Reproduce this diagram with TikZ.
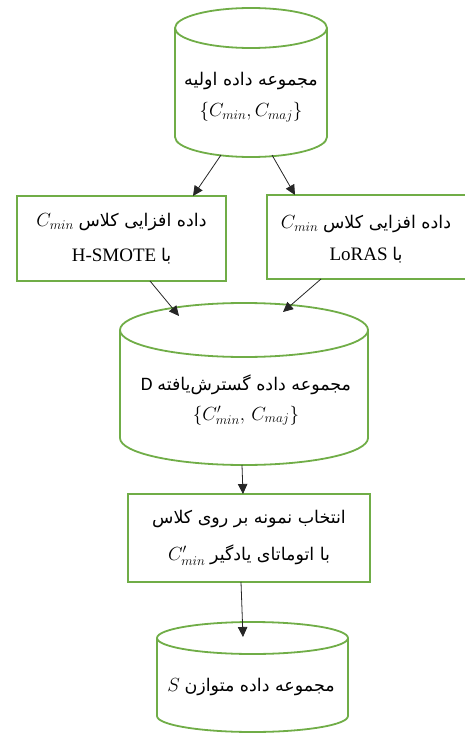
\RequirePackage{fix-cm}
\documentclass[tikz,border=0pt]{standalone}
\usepackage{fontspec}
\setmainfont{Liberation Serif}
\newfontfamily\fa[Script=Arabic,Scale=0.92]{DejaVu Sans}
\newfontfamily\calib{Carlito}
\TeXXeTstate=1
\usetikzlibrary{arrows.meta,calc}
\definecolor{grn}{RGB}{112,173,71}
\newcommand\mth[1]{{\fontsize{19}{19}\selectfont$#1$}}
\newcommand\drawcyl[2]{%
  \draw[cylline] let \p1=(#1.north west), \p2=(#1.south east), \n1={(\x2-\x1)/2} in
    (\x1+\n1,\y1-#2) ellipse [x radius=\n1, y radius=#2]
    (\x1,\y1-#2) -- (\x1,\y2+#2) arc [start angle=180, end angle=360, x radius=\n1, y radius=#2]
    -- (\x2,\y1-#2);}
\tikzset{
  cylline/.style={draw=grn, line width=1.8pt},
  body/.style={draw=none, inner sep=0pt, outer sep=0pt},
  procbox/.style={draw=grn, line width=1.8pt, inner sep=0pt, outer sep=0pt, align=center},
  txt/.style={align=center, inner sep=0pt},
  conn/.style={draw=black!85, line width=0.8pt, -{Triangle[length=10pt,width=9.5pt]}},
}
\begin{document}
\begin{tikzpicture}[x=1pt,y=-1pt]
\useasboundingbox (0,0) rectangle (465,733);
% cylinder 1
\node[body, minimum width=152pt, minimum height=149pt] (c1) at (251,82.5) {};
\drawcyl{c1}{20pt}
\node[txt, font=\fontsize{19}{31}\selectfont] (c1t) at (251,97.5)
  {{\fa\beginR مجموعه داده اولیه\endR}\\\mth{\{C_{min},C_{maj}\}}};
% box 1
\node[procbox, minimum width=209pt, minimum height=85pt, font=\fontsize{19}{35}\selectfont] (b1) at (121.5,238.5)
  {\mth{C_{min}} {\fa\beginR داده افزایی کلاس\endR}\\H-SMOTE {\fa\beginR با\endR}};
% box 2
\node[procbox, minimum width=206pt, minimum height=84pt] (b2) at (370,237) {};
\node[txt, font=\fontsize{19}{32}\selectfont] (b2t) at (366,239)
  {\mth{C_{min}} {\fa\beginR داده افزایی کلاس\endR}\\LoRAS {\fa\beginR با\endR}};
% cylinder 2
\node[body, minimum width=248pt, minimum height=162pt] (c2) at (244,384) {};
\drawcyl{c2}{27pt}
\node[txt, font=\fontsize{19}{30}\selectfont] (c2t) at (246,400)
  {{\calib D} {\fa\beginR مجموعه داده گسترش‌یافته\endR}\\\mth{\{C'_{min},\,C_{maj}\}}};
% box 3
\node[procbox, minimum width=242pt, minimum height=88pt, font=\fontsize{19}{37}\selectfont] (b3) at (249,538)
  {{\fa\beginR انتخاب نمونه بر روی کلاس\endR}\\\mth{C'_{min}} {\fa\beginR با اتوماتای یادگیر\endR}};
% cylinder 3
\node[body, minimum width=191pt, minimum height=110pt] (c3) at (252.5,677) {};
\drawcyl{c3}{16pt}
\node[txt, font=\fontsize{19}{30}\selectfont] (c3t) at (251,687)
  {\mth{S} {\fa\beginR مجموعه داده متوازن\endR}};
% connectors
\draw[conn] ([shift={(-30pt,2pt)}]c1.south) -- ([xshift=71.5pt]b1.north);
\draw[conn] ([shift={(21pt,2pt)}]c1.south) -- ([xshift=-75pt]b2.north);
\draw[conn] ([xshift=28.5pt]b1.south) -- ([shift={(-65pt,-13pt)}]c2.north);
\draw[conn] ([xshift=-49pt]b2.south) -- ([shift={(39pt,-9pt)}]c2.north);
\draw[conn] ([xshift=-2pt]c2.south) -- ([xshift=-6pt]b3.north);
\draw[conn] ([xshift=-8pt]b3.south) -- ([shift={(-9.5pt,-15pt)}]c3.north);
\end{tikzpicture}
\end{document}
